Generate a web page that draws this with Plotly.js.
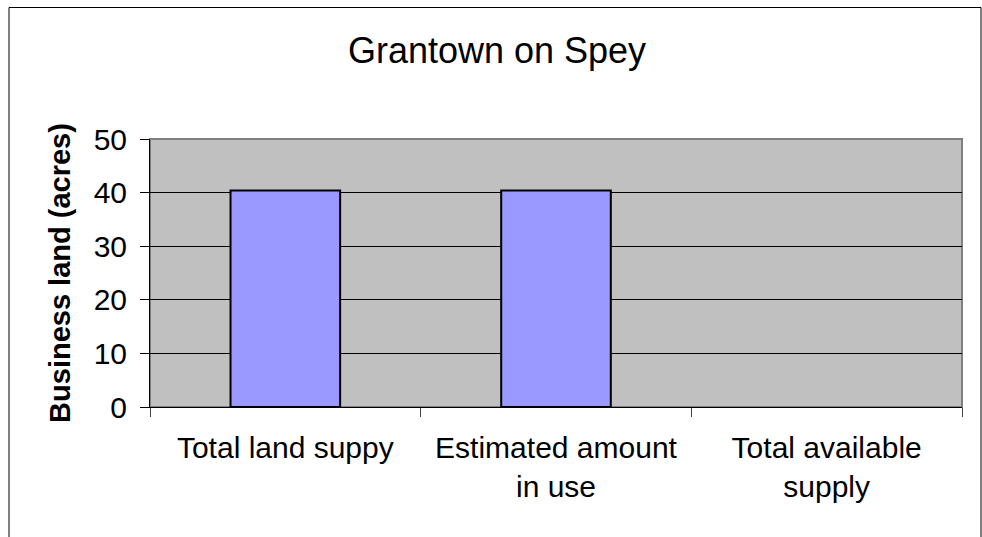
<!DOCTYPE html>
<html>
<head>
<meta charset="utf-8">
<script src="https://cdn.plot.ly/plotly-3.0.1.min.js"></script>
<style>html,body{margin:0;padding:0;background:#fff;}#chart{width:982px;height:537px;}</style>
</head>
<body>
<div id="chart"></div>
<script>
const categories = ["Total land suppy", "Estimated amount<br>in use", "Total available<br>supply"];
const values = [40.4, 40.4, 0];
const yTicks = [0, 10, 20, 30, 40, 50];
const chartTitle = "Grantown on Spey";
const yTitle = "Business land (acres)";

const FONT = "Arial, 'Liberation Sans', sans-serif";

const trace = {
  type: "bar",
  x: categories,
  y: values,
  width: 0.405,
  marker: { color: "#9999FF", line: { color: "#000000", width: values.map(v => v === 0 ? 0 : 2) } },
  hoverinfo: "skip"
};

const L = 150, R = 20, T = 139, B = 130, W = 982, H = 537;
const pw = W - L - R, ph = H - T - B;
const px = v => (v - L) / pw;
const py = v => (H - B - v) / ph;

const layout = {
  width: W, height: H,
  margin: { l: L, r: R, t: T, b: B, pad: 0 },
  paper_bgcolor: "#FFFFFF",
  plot_bgcolor: "#C0C0C0",
  showlegend: false,
  font: { family: FONT, color: "#000000", size: 30 },
  title: {
    text: chartTitle,
    font: { family: FONT, size: 36, color: "#000000" },
    x: 497 / W, xanchor: "center", xref: "container",
    y: 1 - 50 / H, yanchor: "middle", yref: "container"
  },
  xaxis: {
    type: "category",
    tickson: "boundaries",
    ticks: "outside", ticklen: 9, tickwidth: 1, tickcolor: "#444444",
    showline: true, linecolor: "#000000", linewidth: 1,
    showgrid: false, zeroline: false,
    tickfont: { family: FONT, size: 30, color: "#000000" },
    ticklabelstandoff: 14,
    automargin: false,
    fixedrange: true
  },
  yaxis: {
    range: [0, 50],
    tickvals: yTicks,
    ticks: "outside", ticklen: 9, tickwidth: 1, tickcolor: "#000000",
    showline: true, linecolor: "#000000", linewidth: 1,
    showgrid: true, gridcolor: "#000000", gridwidth: 1,
    zeroline: false,
    tickfont: { family: FONT, size: 30, color: "#000000" },
    ticklabelstandoff: 7,
    title: { text: yTitle, font: { family: FONT, size: 29, color: "#000000", weight: "bold" }, standoff: 14 },
    automargin: false,
    fixedrange: true
  },
  shapes: [
    { type: "rect", xref: "paper", yref: "paper", x0: 0, x1: 1, y0: 0, y1: 1,
      line: { color: "#808080", width: 2 }, fillcolor: "rgba(0,0,0,0)", layer: "below" },
    { type: "path", xref: "paper", yref: "paper",
      path: "M " + px(9) + "," + py(560) + " L " + px(9) + "," + py(7.5) + " L " + px(981) + "," + py(7.5) + " L " + px(981) + "," + py(560),
      line: { color: "#000000", width: 1 }, layer: "above" }
  ]
};

Plotly.newPlot("chart", [trace], layout, { displayModeBar: false, staticPlot: true });
</script>
</body>
</html>
